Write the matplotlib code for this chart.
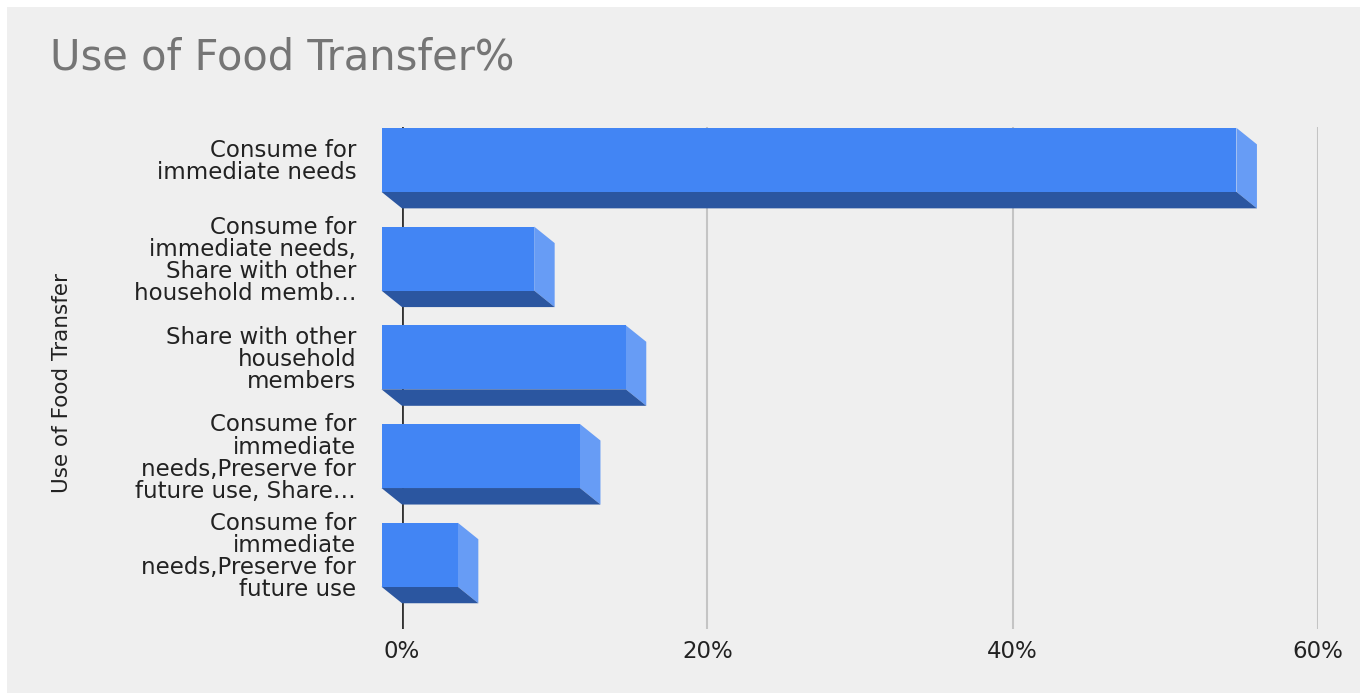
import numpy as np
import matplotlib.pyplot as plt
from matplotlib.patches import Polygon, Rectangle

categories = [
    "Consume for\nimmediate needs",
    "Consume for\nimmediate needs,\nShare with other\nhousehold memb\u2026",
    "Share with other\nhousehold\nmembers",
    "Consume for\nimmediate\nneeds,Preserve for\nfuture use, Share\u2026",
    "Consume for\nimmediate\nneeds,Preserve for\nfuture use",
]
values = [56, 10, 16, 13, 5]
xticks = [0, 20, 40, 60]
xtick_labels = ["0%", "20%", "40%", "60%"]

W, H = 1360, 693
fig = plt.figure(figsize=(W / 100, H / 100), dpi=100)
fig.patch.set_facecolor("white")
fig.patches.append(Rectangle((7 / W, 0), 1 - 7 / W, 1 - 7 / H, transform=fig.transFigure,
                             facecolor="#efefef", edgecolor="none", zorder=-10))

# plot area (back plane): 0% at x=402, 60% at x=1318, rows from y=127 to y=629
left, right, top, bottom = 402, 1318, 127, 629
ax = fig.add_axes([left / W, 1 - bottom / H, (right - left) / W, (bottom - top) / H])
ax.set_facecolor("none")
n = len(values)
ax.set_xlim(0, 60)
ax.set_ylim(n - 0.5 + 0.085, -0.5)
for s in ax.spines.values():
    s.set_visible(False)

px_per_pct = (right - left) / 60
px_per_row = (bottom - top) / (n + 0.085)
dx = 20.5 / px_per_pct      # depth of the 3d bars, in data units
dy = 16.5 / px_per_row
h = 64 / px_per_row

front_c = "#4285f4"
bottom_c = "#2b56a0"
side_c = "#679cf5"

for i, v in enumerate(values):
    y0, y1 = i - h / 2, i + h / 2   # back face top / bottom (inverted axis)
    # right side face
    ax.add_patch(Polygon([(v - dx, y0 - dy), (v, y0), (v, y1), (v - dx, y1 - dy)],
                         closed=True, facecolor=side_c, edgecolor="none", zorder=3, clip_on=False))
    # bottom face
    ax.add_patch(Polygon([(-dx, y1 - dy), (v - dx, y1 - dy), (v, y1), (0, y1)],
                         closed=True, facecolor=bottom_c, edgecolor="none", zorder=3, clip_on=False))
    # front face
    ax.add_patch(Rectangle((-dx, y0 - dy), v, h, facecolor=front_c, edgecolor="none",
                           zorder=4, clip_on=False))

for t in xticks[1:]:
    ax.axvline(t, color="#c4c4c4", lw=1.5, zorder=1)
ax.axvline(0, color="#333333", lw=2, zorder=2)

ax.set_xticks(xticks)
ax.set_xticklabels(xtick_labels, fontsize=16.5, color="#222222")
ax.tick_params(axis="x", length=0, pad=8)
ax.set_yticks(np.arange(n) - dy)
ax.set_yticklabels(categories, fontsize=16.5, color="#222222", linespacing=0.95)
ax.tick_params(axis="y", length=0, pad=33)

fig.text(62 / W, 1 - 383 / H, "Use of Food Transfer", rotation=90, ha="center", va="center",
         fontsize=15.5, color="#222222")
fig.text(50 / W, 1 - 58 / H, "Use of Food Transfer%", ha="left", va="center",
         fontsize=30, color="#757575")

fig.savefig("out.png", dpi=100)
